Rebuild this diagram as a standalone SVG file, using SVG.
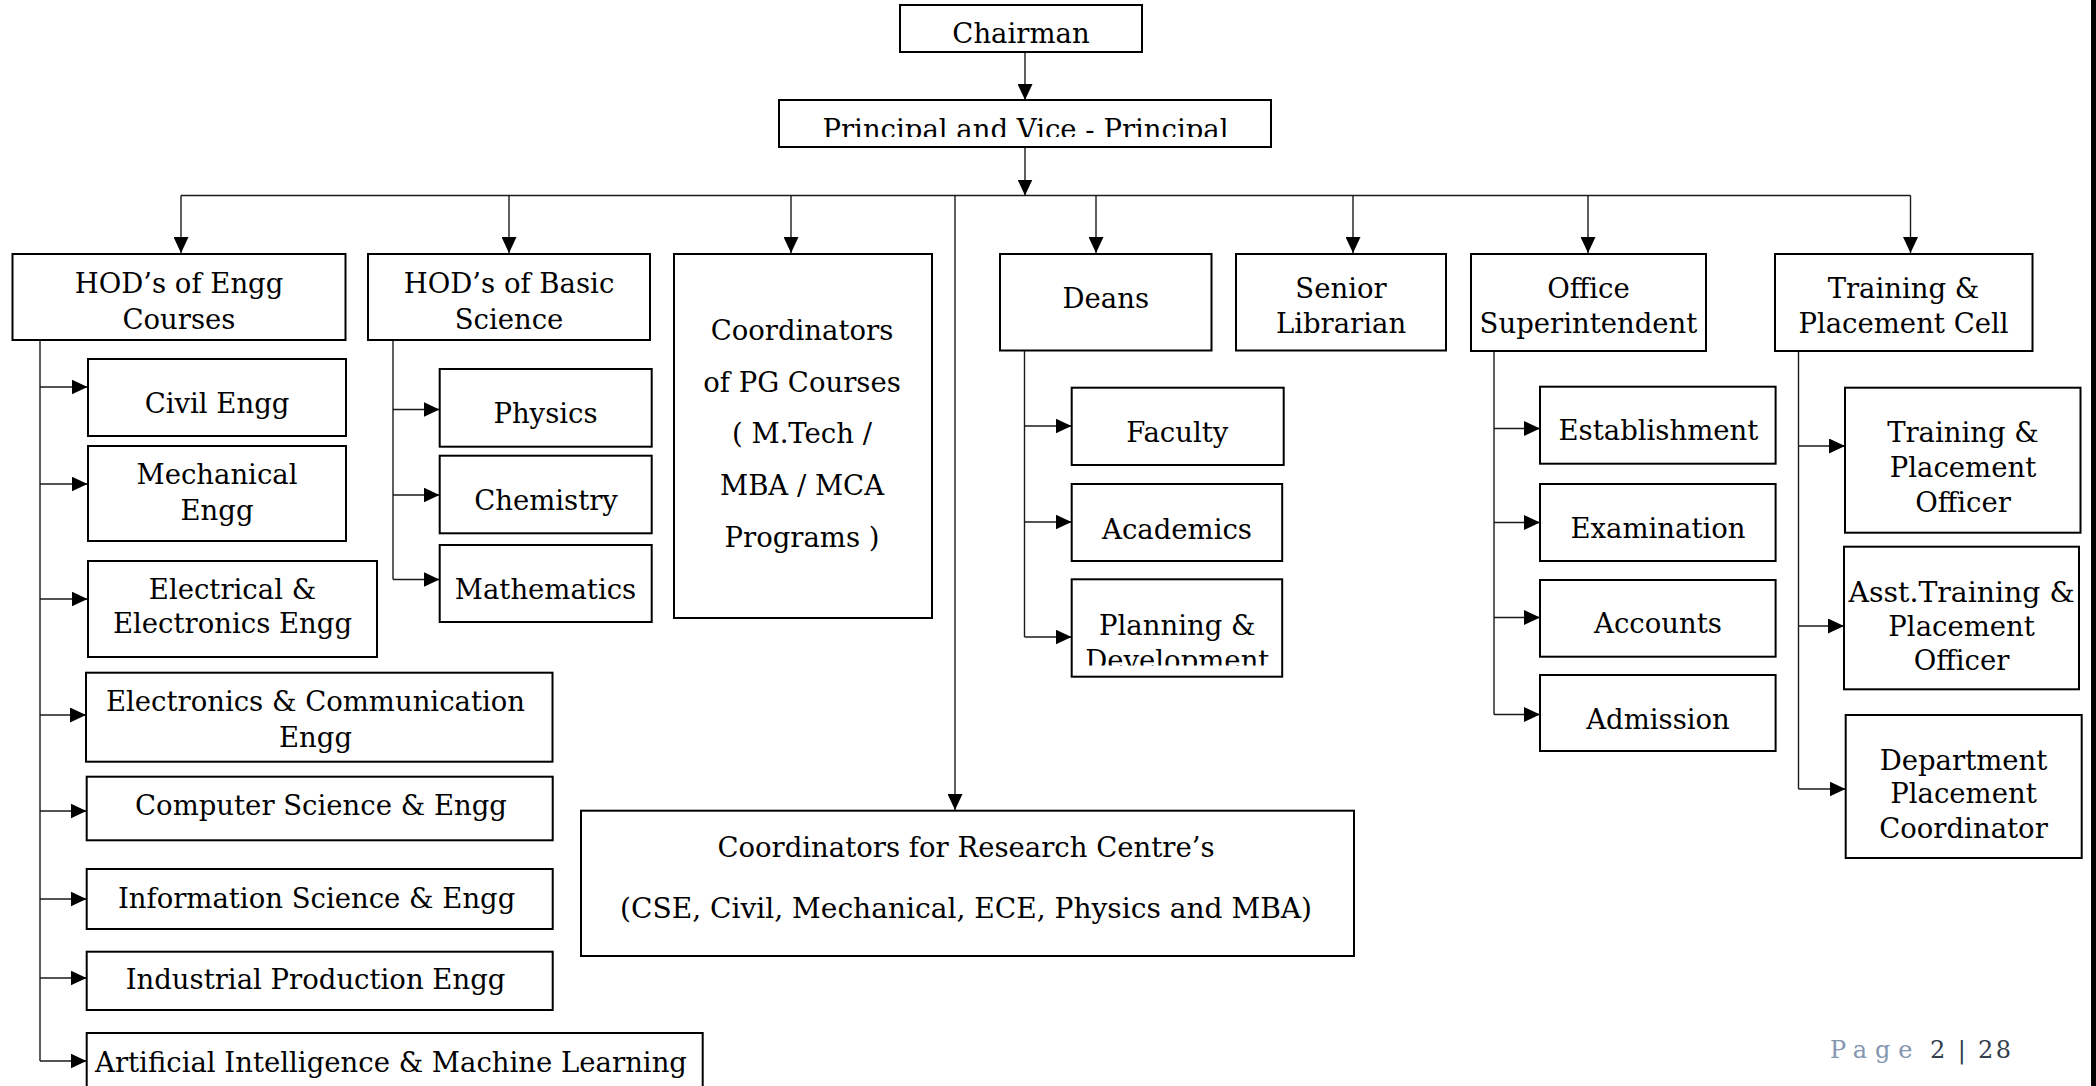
<svg xmlns="http://www.w3.org/2000/svg" width="2096" height="1086" viewBox="0 0 2096 1086">
<style>
.box{fill:#fff;stroke:#000;stroke-width:2}
.t{font-family:"DejaVu Serif","Liberation Serif",serif;font-size:27.5px;fill:#000;text-anchor:middle}
.c{fill:none;stroke:#1a1a1a;stroke-width:1.4}
.a{marker-end:url(#ah)}
.pg{font-family:"DejaVu Serif","Liberation Serif",serif;font-size:24px}
</style>
<defs>
<marker id="ah" markerUnits="userSpaceOnUse" markerWidth="16" markerHeight="15" refX="16" refY="7.5" orient="auto"><path d="M0,0 L16,7.5 L0,15 z" fill="#000"/></marker>
<clipPath id="clipP"><rect x="779" y="100" width="492" height="37"/></clipPath>
<clipPath id="clipD"><rect x="1071" y="579" width="212" height="86.5"/></clipPath>
</defs>
<rect width="2096" height="1086" fill="#fff"/>

<g id="connectors">
<path class="c a" d="M1025,52 V100"/>
<path class="c a" d="M1025,147 V195.5"/>
<path class="c" d="M181,195.5 H1910.5"/>
<path class="c a" d="M181,195.5 V253"/>
<path class="c a" d="M509,195.5 V253"/>
<path class="c a" d="M791,195.5 V253"/>
<path class="c a" d="M955,195.5 V810"/>
<path class="c a" d="M1096,195.5 V253"/>
<path class="c a" d="M1353,195.5 V253"/>
<path class="c a" d="M1588,195.5 V253"/>
<path class="c a" d="M1910.5,195.5 V253"/>
<path class="c" d="M40,340 V1061"/>
<path class="c a" d="M40,387 H87.5"/>
<path class="c a" d="M40,484 H87.5"/>
<path class="c a" d="M40,599 H87.5"/>
<path class="c a" d="M40,715 H86"/>
<path class="c a" d="M40,811 H86.5"/>
<path class="c a" d="M40,899 H86.5"/>
<path class="c a" d="M40,978 H86.5"/>
<path class="c a" d="M40,1061 H86.5"/>
<path class="c" d="M393,340 V579.5"/>
<path class="c a" d="M393,409.5 H439.5"/>
<path class="c a" d="M393,495 H439.5"/>
<path class="c a" d="M393,579.5 H439.5"/>
<path class="c" d="M1024.5,350.5 V637"/>
<path class="c a" d="M1024.5,426 H1071.5"/>
<path class="c a" d="M1024.5,522 H1071.5"/>
<path class="c a" d="M1024.5,637 H1071.5"/>
<path class="c" d="M1494,351 V714.5"/>
<path class="c a" d="M1494,428.5 H1540"/>
<path class="c a" d="M1494,522.5 H1540"/>
<path class="c a" d="M1494,617.5 H1540"/>
<path class="c a" d="M1494,714.5 H1540"/>
<path class="c" d="M1798.5,351 V789"/>
<path class="c a" d="M1798.5,446 H1845"/>
<path class="c a" d="M1798.5,626 H1844"/>
<path class="c a" d="M1798.5,789 H1845.5"/>
</g>

<g id="chairman"><rect class="box" x="900" y="5" width="242" height="47"/><text class="t" x="1021" y="43">Chairman</text></g>
<g id="principal"><rect class="box" x="779" y="100" width="492" height="47"/><text class="t" x="1025.5" y="138.5" clip-path="url(#clipP)">Principal and Vice - Principal</text></g>

<g id="hod-engg"><rect class="box" x="12.5" y="254" width="333" height="86"/><text class="t" x="179" y="293.3">HOD’s of Engg</text><text class="t" x="179" y="329.3">Courses</text></g>
<g id="hod-basic"><rect class="box" x="368" y="254" width="282" height="86"/><text class="t" x="509" y="293.3">HOD’s of Basic</text><text class="t" x="509" y="329.3">Science</text></g>
<g id="coord-pg"><rect class="box" x="674" y="254" width="258" height="364"/>
<text class="t" x="802" y="340">Coordinators</text><text class="t" x="802" y="391.7">of PG Courses</text><text class="t" x="802" y="443.3">( M.Tech /</text><text class="t" x="802" y="495">MBA / MCA</text><text class="t" x="802" y="546.7">Programs )</text></g>
<g id="deans"><rect class="box" x="1000" y="254" width="211.5" height="96.5"/><text class="t" x="1105.8" y="308">Deans</text></g>
<g id="senior-librarian"><rect class="box" x="1236" y="254" width="210" height="96.5"/><text class="t" x="1341" y="298">Senior</text><text class="t" x="1341" y="333">Librarian</text></g>
<g id="office-superintendent"><rect class="box" x="1471" y="254" width="235" height="97"/><text class="t" x="1588.5" y="298">Office</text><text class="t" x="1588.5" y="333">Superintendent</text></g>
<g id="tp-cell"><rect class="box" x="1775" y="254" width="257.5" height="97"/><text class="t" x="1903.5" y="298">Training &amp;</text><text class="t" x="1903.5" y="333">Placement Cell</text></g>

<g id="civil"><rect class="box" x="88" y="359" width="258" height="77"/><text class="t" x="217" y="413">Civil Engg</text></g>
<g id="mechanical"><rect class="box" x="88" y="446" width="258" height="95"/><text class="t" x="217" y="484.3">Mechanical</text><text class="t" x="217" y="520">Engg</text></g>
<g id="eee"><rect class="box" x="88" y="561" width="289" height="96"/><text class="t" x="232.5" y="599.3">Electrical &amp;</text><text class="t" x="232.5" y="633.3">Electronics Engg</text></g>
<g id="ece"><rect class="box" x="86" y="672.7" width="466.5" height="89"/><text class="t" x="315.5" y="711">Electronics &amp; Communication</text><text class="t" x="315.5" y="746.7">Engg</text></g>
<g id="cse"><rect class="box" x="86.7" y="776.7" width="466" height="63.6"/><text class="t" x="321" y="815">Computer Science &amp; Engg</text></g>
<g id="ise"><rect class="box" x="86.7" y="869" width="466" height="60"/><text class="t" x="316.6" y="907.7">Information Science &amp; Engg</text></g>
<g id="ipe"><rect class="box" x="86.7" y="951.7" width="466" height="58.3"/><text class="t" x="315.5" y="989.3">Industrial Production Engg</text></g>
<g id="aiml"><rect class="box" x="86.7" y="1033" width="616" height="70"/><text class="t" x="391" y="1072">Artificial Intelligence &amp; Machine Learning</text></g>

<g id="physics"><rect class="box" x="439.7" y="369" width="212" height="77.7"/><text class="t" x="545.5" y="422.7">Physics</text></g>
<g id="chemistry"><rect class="box" x="439.7" y="455.7" width="212" height="77.6"/><text class="t" x="546" y="510">Chemistry</text></g>
<g id="mathematics"><rect class="box" x="439.7" y="545" width="212" height="77"/><text class="t" x="545.5" y="599.3">Mathematics</text></g>

<g id="faculty"><rect class="box" x="1071.7" y="387.7" width="212" height="77.3"/><text class="t" x="1177.3" y="442.3">Faculty</text></g>
<g id="academics"><rect class="box" x="1071.7" y="484" width="210.5" height="77"/><text class="t" x="1177" y="539">Academics</text></g>
<g id="planning"><rect class="box" x="1071.7" y="579.3" width="210.5" height="97.4"/><text class="t" x="1177.3" y="635">Planning &amp;</text><text class="t" x="1177.3" y="670" clip-path="url(#clipD)">Development</text></g>

<g id="establishment"><rect class="box" x="1540" y="386.7" width="235.6" height="77"/><text class="t" x="1658.4" y="440">Establishment</text></g>
<g id="examination"><rect class="box" x="1540" y="484" width="235.6" height="77"/><text class="t" x="1658" y="538.3">Examination</text></g>
<g id="accounts"><rect class="box" x="1540" y="580" width="235.6" height="76.7"/><text class="t" x="1658" y="633.3">Accounts</text></g>
<g id="admission"><rect class="box" x="1540" y="675" width="235.6" height="76"/><text class="t" x="1658" y="729.3">Admission</text></g>

<g id="tp-officer"><rect class="box" x="1845" y="387.7" width="235.5" height="145"/><text class="t" x="1963" y="441.7">Training &amp;</text><text class="t" x="1963" y="476.7">Placement</text><text class="t" x="1963" y="511.7">Officer</text></g>
<g id="asst-tp-officer"><rect class="box" x="1844" y="546.7" width="235" height="142.6"/><text class="t" x="1961.6" y="601.7" textLength="226" lengthAdjust="spacingAndGlyphs">Asst.Training &amp;</text><text class="t" x="1961.6" y="636">Placement</text><text class="t" x="1961.6" y="670">Officer</text></g>
<g id="dept-placement-coordinator"><rect class="box" x="1845.7" y="715" width="236" height="143"/><text class="t" x="1963.5" y="770">Department</text><text class="t" x="1963.5" y="803.3">Placement</text><text class="t" x="1963.5" y="838.3">Coordinator</text></g>

<g id="research"><rect class="box" x="581" y="810.7" width="773" height="145.3"/><text class="t" x="966" y="856.7">Coordinators for Research Centre’s</text><text class="t" x="966" y="918.3" textLength="692" lengthAdjust="spacingAndGlyphs">(CSE, Civil, Mechanical, ECE, Physics and MBA)</text></g>

<g id="footer"><text class="pg" x="1830" y="1058" fill="#8496B0" letter-spacing="7.8">Page</text><text class="pg" x="1930" y="1058" fill="#323F4F" textLength="81" lengthAdjust="spacing">2 | 28</text></g>
<rect x="2091" y="0" width="5" height="1086" fill="#000"/>
</svg>
